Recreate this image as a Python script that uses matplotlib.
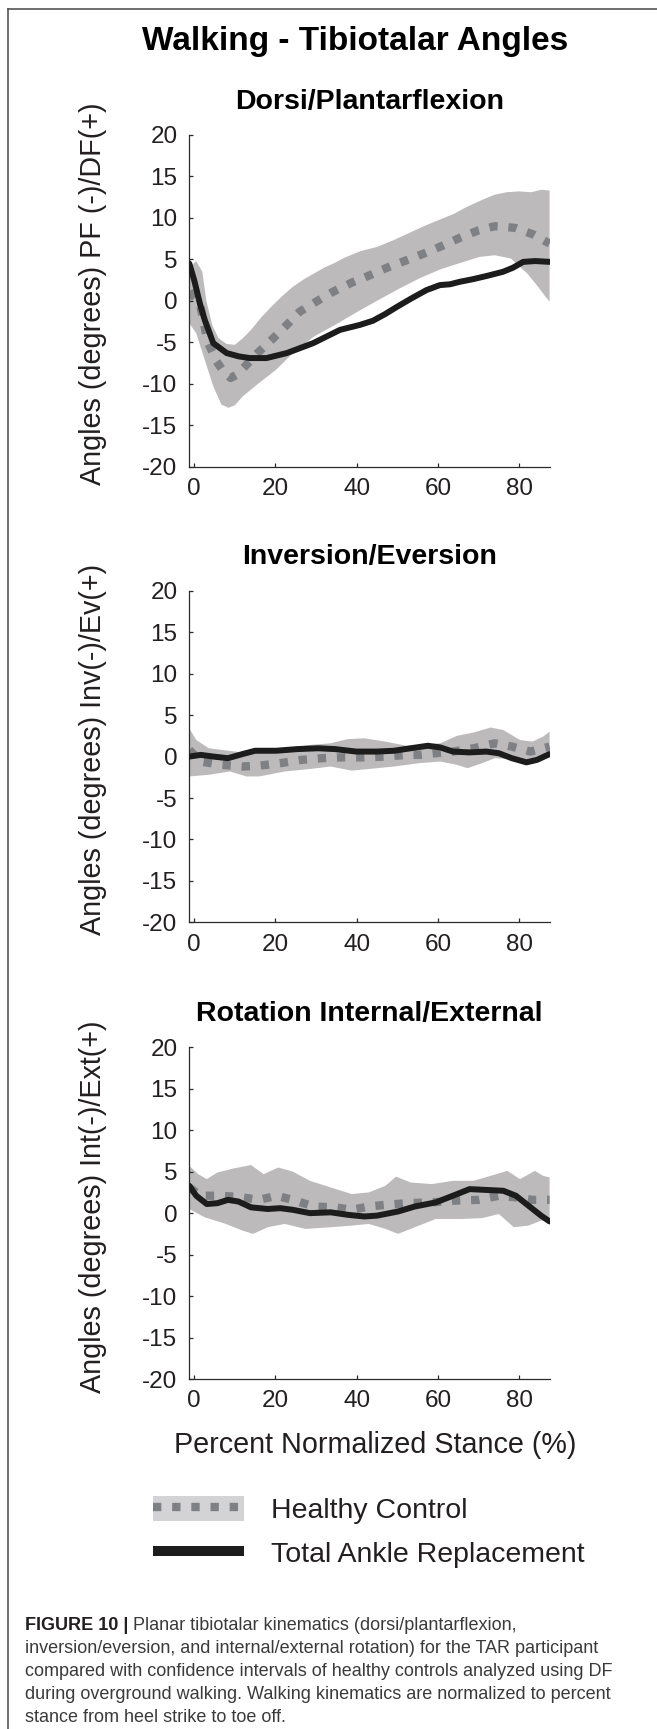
import numpy as np
import matplotlib
matplotlib.use("Agg")
import matplotlib.pyplot as plt
from matplotlib.lines import Line2D
from matplotlib.patches import Patch

plt.rcParams['font.family'] = ['Liberation Sans', 'DejaVu Sans']
plt.rcParams['axes.unicode_minus'] = False

# ---- data ----
xticks = [0, 20, 40, 60, 80]
yticks = [-20, -15, -10, -5, 0, 5, 10, 15, 20]

# Dorsi/Plantarflexion
tar1_x = [-1.2, 0, 1.5, 2.6, 4.7, 8, 11, 13.7, 17.8, 22.8, 29.3, 35.9, 40.8, 44, 47, 50, 53.5, 57.2,
          60.5, 63, 65.4, 68.5, 72, 76, 78.5, 81, 84, 87.5]
tar1_y = [4.5, 2.5, -0.5, -2.3, -5.1, -6.3, -6.7, -6.9, -6.9, -6.3, -5.1, -3.5, -2.9, -2.4, -1.6, -0.7, 0.3, 1.3,
          1.9, 2.0, 2.3, 2.6, 3.0, 3.5, 4.0, 4.7, 4.8, 4.7]
mean1_x = [-1.2, 1.4, 3.3, 5.5, 7.5, 9.0, 10.5, 12.5, 15.8, 19.5, 22.8, 26, 30, 34.2, 38.8, 43.3, 47.5,
           52.3, 56.5, 60.9, 65.4, 70, 74, 79, 83.5, 87.5]
mean1_y = [1.1, -0.3, -4.9, -7.3, -8.7, -9.3, -8.9, -7.9, -6.2, -4.5, -2.9, -1.3, -0.1, 1.1, 2.2, 3.1, 4.0,
           4.9, 5.7, 6.6, 7.6, 8.5, 9.0, 8.8, 8.0, 6.9]
upper1_x = [-1.2, 0.5, 2, 3, 4.5, 6, 8, 10, 12, 14, 16.5, 19, 21.5, 24.3, 27, 29.5, 32, 34.7, 37, 41, 45,
            49, 53, 57, 61, 64, 67, 71, 74, 77, 80, 83, 85.5, 87.5]
upper1_y = [4.0, 4.8, 3.5, 0.0, -3.0, -4.5, -5.2, -5.3, -4.5, -3.5, -2.0, -0.7, 0.5, 1.7, 2.6, 3.3, 4.0, 4.6,
            5.2, 6.0, 6.5, 7.3, 8.2, 9.1, 9.9, 10.5, 11.3, 12.2, 12.8, 13.1, 13.2, 13.1, 13.4, 13.3]
lower1_x = [-1.2, 0.5, 2.6, 4.7, 6.7, 8.4, 10, 12, 16, 20.2, 24.3, 29.5, 34.7, 39.9, 45, 50.2, 55.4, 60.6,
            65.7, 70.3, 74, 78, 82, 84.5, 86.5, 87.5]
lower1_y = [-2.7, -3.9, -7.1, -10.3, -12.5, -12.9, -12.6, -11.5, -9.9, -8.3, -6.3, -4.3, -2.9, -1.4, 0.0, 1.4,
            2.7, 3.8, 4.6, 5.3, 5.5, 5.1, 3.3, 1.8, 0.5, -0.1]

# Inversion/Eversion
tar2_x = [-1.2, 1.6, 4.7, 8.3, 11.9, 15, 20.2, 25.4, 30.5, 34.7, 39.9, 45, 49.2, 53.3, 57.5, 60.6, 63.7,
          67.8, 71.9, 75, 78.2, 81.8, 84.4, 87.5]
tar2_y = [0.0, 0.2, 0.0, -0.2, 0.3, 0.7, 0.7, 0.9, 1.0, 0.9, 0.6, 0.6, 0.7, 1.0, 1.3, 1.1, 0.6,
          0.5, 0.6, 0.4, -0.2, -0.7, -0.4, 0.3]
mean2_x = [-1.2, 1.6, 6.7, 11.9, 16, 21.2, 26.4, 31.6, 35.7, 40.9, 47.1, 52.3, 55.4, 59.5, 63.7, 68.8, 74,
           78.2, 82.8, 87.5]
mean2_y = [0.8, -0.6, -1.0, -1.2, -1.1, -0.8, -0.4, -0.2, -0.1, -0.1, 0.0, 0.2, 0.2, 0.4, 0.6, 1.0, 1.6,
           1.2, 0.6, 1.2]
upper2_x = [-1.2, 0.5, 3.6, 6.7, 11.9, 16, 22.3, 28.5, 33.6, 37.8, 41.9, 47.1, 52.3, 55.4, 60.6, 64.7, 68.8,
            73, 76.1, 80.2, 83.3, 85.9, 87.5]
upper2_y = [3.4, 2.0, 1.0, 0.8, 0.5, 0.7, 1.0, 1.4, 1.6, 2.1, 2.2, 1.8, 1.3, 1.4, 1.6, 2.5, 2.9,
            3.5, 3.2, 2.0, 1.8, 2.4, 3.0]
lower2_x = [-1.2, 3.6, 8.8, 12.9, 16, 22.3, 28.5, 33.6, 38.8, 43, 49.2, 55.4, 60.6, 64.7, 67.3, 70.9, 74,
            78.2, 82.3, 85.4, 87.5]
lower2_y = [-2.4, -2.2, -1.8, -2.4, -2.4, -1.8, -1.5, -1.2, -1.7, -1.5, -1.2, -0.8, -0.6, -1.0, -1.4, -0.8, -0.2,
            -0.3, -0.8, -0.4, 0.2]

# Rotation Internal/External
tar3_x = [-1.2, 0.5, 3.1, 5.7, 8.3, 10.9, 14, 18.1, 21.2, 24.3, 28.5, 33.6, 37.8, 41.9, 45, 50.2, 54.3,
          59.5, 63.7, 67.8, 71.9, 76.1, 79.2, 82.3, 85.4, 87.5]
tar3_y = [3.3, 2.1, 1.1, 1.2, 1.6, 1.4, 0.7, 0.5, 0.6, 0.4, 0.0, 0.1, -0.2, -0.4, -0.3, 0.2, 0.8,
          1.3, 2.1, 2.9, 2.8, 2.7, 2.1, 0.9, -0.3, -1.0]
mean3_x = [-1.2, 1.6, 6.7, 11.9, 16, 20.2, 24.3, 29.5, 34.7, 38.8, 43, 47.1, 52.3, 58.5, 63.7, 69.9, 75,
           79.2, 83.3, 87.5]
mean3_y = [3.1, 2.1, 2.1, 1.9, 1.6, 2.1, 1.6, 0.8, 0.7, 0.4, 0.8, 1.0, 1.2, 1.3, 1.5, 1.6, 2.1,
           1.9, 1.6, 1.6]
upper3_x = [-1.2, 1, 3.1, 5.7, 9.8, 14, 17.1, 20.7, 24.3, 28.5, 33.6, 38.8, 43, 47.1, 49.7, 53.3, 58.5,
            63.7, 68.8, 73, 77.1, 80.2, 83.9, 85.9, 87.5]
upper3_y = [5.7, 4.7, 4.1, 4.9, 5.4, 5.8, 4.7, 5.5, 5.0, 3.9, 3.1, 2.3, 2.5, 3.3, 4.4, 3.7, 3.5,
            3.9, 3.9, 4.5, 5.1, 4.1, 5.1, 4.5, 4.3]
lower3_x = [-1.2, 2.6, 7.8, 11.9, 14.5, 18.1, 22.3, 27.4, 33.6, 38.8, 43, 47.1, 50.2, 54.3, 59.5, 65.7,
            70.9, 75, 78.7, 82.3, 85.4, 87.5]
lower3_y = [0.5, -0.5, -1.3, -2.1, -2.5, -1.7, -1.3, -1.9, -1.7, -1.5, -1.3, -1.9, -2.5, -1.7, -0.7, -0.7,
            -0.6, -0.1, -1.7, -1.5, -0.9, -0.8]

titles = ['Dorsi/Plantarflexion', 'Inversion/Eversion', 'Rotation Internal/External']
ylabels = ['Angles (degrees) PF (-)/DF(+)', 'Angles (degrees) Inv(-)/Ev(+)',
           'Angles (degrees) Int(-)/Ext(+)']

caption = ["Planar tibiotalar kinematics (dorsi/plantarflexion,",
           "inversion/eversion, and internal/external rotation) for the TAR participant",
           "compared with confidence intervals of healthy controls analyzed using DF",
           "during overground walking. Walking kinematics are normalized to percent",
           "stance from heel strike to toe off."]

BAND = '#bcbabb'
MEAN = '#7e8083'
TAR = '#1c1c1c'
TXT = '#231f20'

W, H = 657, 1729
fig = plt.figure(figsize=(W / 100, H / 100), dpi=100)

panels = [
    (tar1_x, tar1_y, mean1_x, mean1_y, upper1_x, upper1_y, lower1_x, lower1_y),
    (tar2_x, tar2_y, mean2_x, mean2_y, upper2_x, upper2_y, lower2_x, lower2_y),
    (tar3_x, tar3_y, mean3_x, mean3_y, upper3_x, upper3_y, lower3_x, lower3_y),
]
tops = [135, 590.7, 1047.3]

for i, (tx, ty, mx, my, ux, uy, lx, ly) in enumerate(panels):
    top = tops[i]
    ax = fig.add_axes([189.3 / W, 1 - (top + 331.7) / H, 360.7 / W, 331.7 / H])
    ax.fill(np.r_[ux, lx[::-1]], np.r_[uy, ly[::-1]], color=BAND, lw=0, zorder=1)
    ax.plot(mx, my, color=MEAN, lw=6, dashes=(1, 1.3), dash_capstyle='butt', zorder=2)
    ax.plot(tx, ty, color=TAR, lw=4.3, solid_capstyle='round', solid_joinstyle='round', zorder=3)
    ax.set_xlim(-1.2, 87.6)
    ax.set_ylim(-20, 20)
    ax.set_xticks(xticks)
    ax.set_yticks(yticks)
    for s in ['top', 'right']:
        ax.spines[s].set_visible(False)
    for s in ['left', 'bottom']:
        ax.spines[s].set_color('#2a2a2a')
        ax.spines[s].set_linewidth(0.9)
    ax.tick_params(direction='in', length=3, width=0.9, color='#2a2a2a', labelsize=17.5,
                   labelcolor=TXT)
    ax.tick_params(axis='y', pad=8.5)
    ax.tick_params(axis='x', pad=8)
    ax.set_title(titles[i], fontsize=20.5, fontweight='bold', pad=19, color='black')
    ax.set_ylabel(ylabels[i], fontsize=20.7, color=TXT)
    ax.yaxis.set_label_coords(-0.228, 0.52)

fig.text(355 / W, 1 - 50 / H, 'Walking - Tibiotalar Angles', ha='center', va='baseline',
         fontsize=24, fontweight='bold', color='black')
fig.text(375 / W, 1 - 1445 / H, 'Percent Normalized Stance (%)', ha='center', va='center',
         fontsize=20.7, color=TXT)

# legend
hc = (Patch(facecolor='#d3d3d5', edgecolor='none'),
      Line2D([], [], color=MEAN, lw=6, dashes=(1, 1.3), dash_capstyle='butt'))
tr = Line2D([], [], color=TAR, lw=7.2, solid_capstyle='butt')
leg = fig.legend([hc, tr], ['Healthy Control', 'Total Ankle Replacement'], loc='upper left',
                 bbox_to_anchor=(153 / W, 1 - 1496 / H), frameon=False, fontsize=20.5,
                 handlelength=3.2, handleheight=0.95, handletextpad=0.95, labelspacing=0.55,
                 borderpad=0, borderaxespad=0)
for t in leg.get_texts():
    t.set_color(TXT)

# caption
y0 = 1630
bold = fig.text(25 / W, 1 - y0 / H, 'FIGURE 10 | ', fontsize=13, fontweight='bold',
                color=TXT, va='baseline')
fig.canvas.draw()
bb = bold.get_window_extent(fig.canvas.get_renderer())
fig.text(bb.x1 / W, 1 - y0 / H, caption[0], fontsize=13, color='#3a3a3a', va='baseline')
for k, line in enumerate(caption[1:]):
    fig.text(25 / W, 1 - (y0 + 23 * (k + 1)) / H, line, fontsize=13, color='#3a3a3a', va='baseline')

# page frame (left and top edges)
fig.add_artist(Line2D([8 / W, 8 / W], [0, 1 - 9 / H], transform=fig.transFigure, color='#555555', lw=1.2))
fig.add_artist(Line2D([8 / W, 1], [1 - 9 / H, 1 - 9 / H], transform=fig.transFigure, color='#555555', lw=1.2))

fig.savefig('out.png', dpi=100, facecolor='white')
